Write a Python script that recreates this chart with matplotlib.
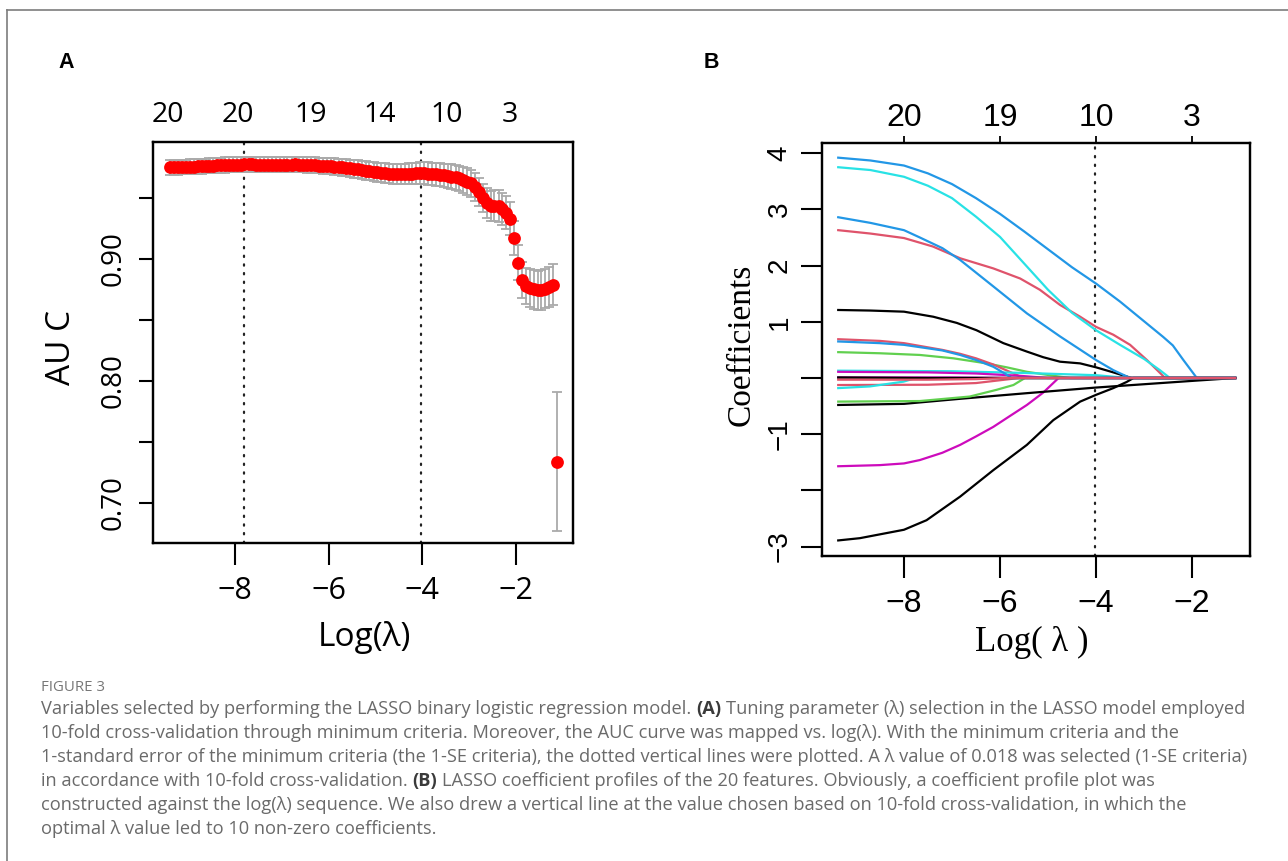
import matplotlib
matplotlib.use("Agg")
import matplotlib.pyplot as plt
from matplotlib.lines import Line2D

# ---------------- data: panel A (cross-validated AUC) ----------------
cv_log_lambda = [
    -9.38, -9.30, -9.21, -9.13, -9.05, -8.96, -8.88, -8.80, -8.71, -8.63,
    -8.55, -8.46, -8.38, -8.30, -8.21, -8.13, -8.05, -7.96, -7.88, -7.80,
    -7.71, -7.63, -7.55, -7.46, -7.38, -7.30, -7.21, -7.13, -7.05, -6.96,
    -6.88, -6.79, -6.71, -6.63, -6.54, -6.46, -6.38, -6.29, -6.21, -6.13,
    -6.04, -5.96, -5.88, -5.79, -5.71, -5.63, -5.54, -5.46, -5.38, -5.29,
    -5.21, -5.13, -5.04, -4.96, -4.88, -4.79, -4.71, -4.63, -4.54, -4.46,
    -4.38, -4.29, -4.21, -4.13, -4.04, -3.96, -3.88, -3.79, -3.71, -3.63,
    -3.54, -3.46, -3.38, -3.29, -3.21, -3.13, -3.04, -2.96, -2.87, -2.79,
    -2.71, -2.62, -2.54, -2.46, -2.37, -2.29, -2.21, -2.12, -2.04, -1.96,
    -1.87, -1.79, -1.71, -1.62, -1.54, -1.46, -1.37, -1.29, -1.21, -1.12]
cv_auc = [
    0.9750, 0.9751, 0.9752, 0.9753, 0.9755, 0.9756, 0.9758, 0.9759, 0.9761, 0.9762,
    0.9764, 0.9765, 0.9767, 0.9768, 0.9770, 0.9771, 0.9772, 0.9773, 0.9774, 0.9776,
    0.9775, 0.9775, 0.9774, 0.9774, 0.9773, 0.9773, 0.9773, 0.9772, 0.9772, 0.9773,
    0.9774, 0.9774, 0.9775, 0.9774, 0.9773, 0.9772, 0.9770, 0.9768, 0.9766, 0.9764,
    0.9762, 0.9760, 0.9757, 0.9754, 0.9751, 0.9748, 0.9744, 0.9740, 0.9735, 0.9730,
    0.9725, 0.9720, 0.9716, 0.9712, 0.9708, 0.9704, 0.9700, 0.9697, 0.9695, 0.9695,
    0.9696, 0.9698, 0.9700, 0.9702, 0.9703, 0.9702, 0.9700, 0.9698, 0.9695, 0.9691,
    0.9687, 0.9682, 0.9676, 0.9669, 0.9660, 0.9648, 0.9635, 0.9620, 0.9590, 0.9550,
    0.9500, 0.9460, 0.9435, 0.9438, 0.9435, 0.9410, 0.9380, 0.9330, 0.9170, 0.8970,
    0.8830, 0.8780, 0.8760, 0.8750, 0.8745, 0.8748, 0.8758, 0.8770, 0.8790, 0.7340]
cv_auc_se = [
    0.0060, 0.0060, 0.0060, 0.0060, 0.0060, 0.0060, 0.0060, 0.0061, 0.0061, 0.0061,
    0.0061, 0.0061, 0.0061, 0.0061, 0.0062, 0.0062, 0.0062, 0.0062, 0.0062, 0.0062,
    0.0062, 0.0062, 0.0062, 0.0062, 0.0062, 0.0062, 0.0063, 0.0063, 0.0063, 0.0063,
    0.0063, 0.0063, 0.0063, 0.0063, 0.0064, 0.0064, 0.0064, 0.0064, 0.0065, 0.0065,
    0.0066, 0.0066, 0.0067, 0.0068, 0.0069, 0.0070, 0.0071, 0.0072, 0.0073, 0.0074,
    0.0075, 0.0076, 0.0077, 0.0078, 0.0079, 0.0080, 0.0081, 0.0082, 0.0083, 0.0084,
    0.0085, 0.0086, 0.0087, 0.0088, 0.0089, 0.0090, 0.0091, 0.0092, 0.0093, 0.0094,
    0.0095, 0.0097, 0.0099, 0.0101, 0.0103, 0.0105, 0.0107, 0.0109, 0.0112, 0.0115,
    0.0118, 0.0121, 0.0124, 0.0127, 0.0129, 0.0131, 0.0133, 0.0135, 0.0138, 0.0142,
    0.0146, 0.0150, 0.0154, 0.0157, 0.0160, 0.0162, 0.0163, 0.0164, 0.0165, 0.0570]
log_lambda_min = -7.81
log_lambda_1se = -4.02
nzero_pos_A = [-9.43, -7.94, -6.38, -4.91, -3.47, -2.13]
nzero_lab_A = ["20", "20", "19", "14", "10", "3"]
xticks_A = [-8, -6, -4, -2]
yticks_A = [0.70, 0.75, 0.80, 0.85, 0.90, 0.95]
ylabels_A = ["0.70", "", "0.80", "", "0.90", ""]

# ---------------- data: panel B (coefficient paths) ----------------
xticks_B = [-8, -6, -4, -2]
nzero_lab_B = ["20", "19", "10", "3"]
yticks_B = [-3, -2, -1, 0, 1, 2, 3, 4]
ylabels_B = ["\u22123", "", "\u22121", "", "1", "2", "3", "4"]

c01_x = [-9.37, -8.7, -8.0, -7.39, -6.9, -6.49, -5.93, -5.44, -5.1, -4.75, -4.33, -4.0, -3.64, -3.26, -1.1]
c01_y = [1.21, 1.20, 1.18, 1.09, 0.98, 0.85, 0.62, 0.47, 0.37, 0.29, 0.26, 0.19, 0.10, 0.0, 0.0]
c02_x = [-9.37, -8.7, -8.0, -7.4, -6.83, -6.14, -5.58, -5.17, -4.75, -4.33, -4.0, -3.64, -3.29, -2.94, -2.56, -1.1]
c02_y = [2.63, 2.57, 2.49, 2.34, 2.13, 1.95, 1.77, 1.57, 1.30, 1.09, 0.91, 0.77, 0.59, 0.32, 0.0, 0.0]
c03_x = [-9.37, -8.5, -7.67, -6.97, -6.28, -5.86, -5.44, -4.89, -4.54, -1.1]
c03_y = [0.46, 0.44, 0.41, 0.35, 0.26, 0.19, 0.11, 0.04, 0.0, 0.0]
c04_x = [-9.37, -8.7, -8.0, -7.5, -7.0, -6.5, -6.0, -5.5, -5.0, -4.5, -4.0, -3.5, -3.0, -2.6, -2.4, -2.18, -1.90, -1.1]
c04_y = [3.92, 3.87, 3.78, 3.64, 3.45, 3.20, 2.92, 2.61, 2.29, 1.97, 1.68, 1.36, 1.01, 0.73, 0.58, 0.32, 0.0, 0.0]
c05_x = [-9.37, -8.7, -8.0, -7.5, -7.0, -6.5, -6.0, -5.5, -5.0, -4.5, -4.0, -3.5, -3.0, -2.67, -2.46, -1.1]
c05_y = [3.75, 3.70, 3.58, 3.42, 3.20, 2.87, 2.51, 2.04, 1.57, 1.16, 0.85, 0.59, 0.34, 0.14, 0.0, 0.0]
c06_x = [-9.37, -8.5, -8.0, -7.67, -7.2, -6.83, -6.5, -6.14, -5.8, -5.44, -5.1, -4.78, -1.1]
c06_y = [-1.57, -1.55, -1.52, -1.46, -1.33, -1.19, -1.04, -0.87, -0.68, -0.48, -0.26, 0.0, 0.0]
c07_x = [-9.37, -8.0, -6.83, -5.44, -4.0, -1.97, -1.1]
c07_y = [-0.48, -0.46, -0.37, -0.27, -0.17, -0.05, 0.0]
c08_x = [-9.37, -8.5, -8.0, -7.2, -6.83, -6.5, -6.14, -5.72, -5.51, -1.1]
c08_y = [0.69, 0.66, 0.62, 0.50, 0.43, 0.35, 0.24, 0.08, 0.0, 0.0]
c09_x = [-9.37, -7.67, -6.63, -6.07, -5.72, -5.48, -1.1]
c09_y = [-0.42, -0.41, -0.33, -0.21, -0.125, 0.0, 0.0]
c10_x = [-9.37, -8.7, -8.0, -7.67, -7.2, -6.83, -6.14, -5.44, -4.75, -4.0, -3.64, -3.29, -1.1]
c10_y = [2.86, 2.76, 2.63, 2.50, 2.31, 2.10, 1.63, 1.15, 0.74, 0.32, 0.14, 0.0, 0.0]
c11_x = [-9.37, -7.0, -5.5, -4.0, -3.6, -3.3, -1.1]
c11_y = [0.13, 0.12, 0.09, 0.05, 0.02, 0.0, 0.0]
c12_x = [-9.37, -7.5, -6.5, -5.6, -5.0, -1.1]
c12_y = [0.11, 0.10, 0.08, 0.04, 0.0, 0.0]
c13_x = [-9.37, -8.92, -8.0, -7.53, -6.83, -6.14, -5.44, -4.89, -4.33, -4.0, -3.64, -3.36, -3.22, -1.1]
c13_y = [-2.89, -2.85, -2.70, -2.53, -2.11, -1.64, -1.19, -0.75, -0.42, -0.30, -0.18, -0.07, 0.0, 0.0]
c14_x = [-9.37, -7.5, -6.5, -6.0, -5.6, -1.1]
c14_y = [-0.125, -0.12, -0.09, -0.04, 0.0, 0.0]
c15_x = [-9.37, -7.0, -1.1]
c15_y = [-0.01, 0.0, 0.0]
c16_x = [-9.37, -8.5, -8.0, -7.2, -6.83, -6.5, -6.14, -5.9, -5.76, -1.1]
c16_y = [0.65, 0.62, 0.59, 0.49, 0.41, 0.32, 0.20, 0.08, 0.0, 0.0]
c17_x = [-9.37, -8.71, -8.01, -7.75, -1.1]
c17_y = [-0.18, -0.15, -0.065, 0.0, 0.0]
c18_x = [-9.37, -7.0, -5.6, -1.1]
c18_y = [0.01, 0.01, 0.0, 0.0]
c19_x = [-9.37, -7.5, -1.1]
c19_y = [0.01, 0.0, 0.0]
c20_x = [-9.37, -7.5, -6.5, -5.9, -1.1]
c20_y = [-0.03, -0.03, -0.02, 0.0, 0.0]

path_x = [c01_x, c02_x, c03_x, c04_x, c05_x, c06_x, c07_x, c08_x, c09_x, c10_x,
          c11_x, c12_x, c13_x, c14_x, c15_x, c16_x, c17_x, c18_x, c19_x, c20_x]
path_y = [c01_y, c02_y, c03_y, c04_y, c05_y, c06_y, c07_y, c08_y, c09_y, c10_y,
          c11_y, c12_y, c13_y, c14_y, c15_y, c16_y, c17_y, c18_y, c19_y, c20_y]
r_palette = ["#000000", "#DF536B", "#61D04F", "#2297E6", "#28E2E5", "#CD0BBC"]

caption_lines = [
    ["Variables selected by performing the LASSO binary logistic regression model.", "(A)",
     "Tuning parameter (\u03bb) selection in the LASSO model employed"],
    ["10-fold cross-validation through minimum criteria. Moreover, the AUC curve was mapped vs. log(\u03bb). With the minimum criteria and the"],
    ["1-standard error of the minimum criteria (the 1-SE criteria), the dotted vertical lines were plotted. A \u03bb value of 0.018 was selected (1-SE criteria)"],
    ["in accordance with 10-fold cross-validation.", "(B)",
     "LASSO coefficient profiles of the 20 features. Obviously, a coefficient profile plot was"],
    ["constructed against the log(\u03bb) sequence. We also drew a vertical line at the value chosen based on 10-fold cross-validation, in which the"],
    ["optimal \u03bb value led to 10 non-zero coefficients."],
]

# ---------------- figure ----------------
W, H = 1288, 861
fig = plt.figure(figsize=(W / 100, H / 100), dpi=100)
fig.patch.set_facecolor("white")


def fx(px):
    return px / W


def fy(py):
    return 1 - py / H


SANS_A = ["Open Sans", "DejaVu Sans"]
SANS_B = ["Liberation Sans", "DejaVu Sans"]
SERIF_B = ["Liberation Serif", "DejaVu Serif"]
DOT = (0, (0.6, 3.3))

# frame lines of the figure page
fig.add_artist(Line2D([fx(7), 1.0], [fy(10), fy(10)], color="#7d7d7d", lw=1.2))
fig.add_artist(Line2D([fx(7), fx(7)], [fy(10), 0.0], color="#7d7d7d", lw=1.2))

# ---------------- panel A ----------------
axA = fig.add_axes([fx(153), fy(543), fx(573) - fx(153), fy(142) - fy(543)])
axA.errorbar(cv_log_lambda, cv_auc, yerr=cv_auc_se, fmt="none", ecolor="#AAAAAA",
             elinewidth=1.3, capsize=3.6, capthick=1.3, zorder=2)
axA.plot(cv_log_lambda, cv_auc, "o", color="#FF0000", ms=9.2, mec="none", zorder=3)
for v in (log_lambda_min, log_lambda_1se):
    axA.axvline(v, color="#222222", lw=1.6, ls=DOT, dash_capstyle="round", zorder=1)
axA.set_xlim(-9.752, -0.782)
axA.set_ylim(0.6672, 0.9959)
axA.set_xticks(xticks_A)
axA.set_xticklabels(["\u2212%d" % abs(t) for t in xticks_A], fontsize=22, family=SANS_A)
axA.set_yticks(yticks_A)
axA.set_yticklabels(ylabels_A, fontsize=20, family=SANS_A, rotation=90, va="center")
axA.tick_params(axis="x", length=16, width=1.5, pad=8, direction="out")
axA.tick_params(axis="y", length=10, width=1.5, pad=8, direction="out")
for s in axA.spines.values():
    s.set_linewidth(1.6)
axA_top = axA.twiny()
axA_top.set_xlim(axA.get_xlim())
axA_top.set_xticks(nzero_pos_A)
axA_top.set_xticklabels(nzero_lab_A, fontsize=20.5, family=SANS_A)
axA_top.tick_params(axis="x", length=0, pad=9)
for s in axA_top.spines.values():
    s.set_linewidth(1.6)

fig.text(fx(61), fy(347), "AU C", rotation=90, ha="center", va="center",
         fontsize=24, family=SANS_A)
fig.text(fx(364), fy(638), "Log(\u03bb)", ha="center", va="center",
         fontsize=24, family=SANS_A)
fig.text(fx(66), fy(62), "A", ha="center", va="center", fontsize=15.5,
         fontweight="bold", family=SANS_B)

# ---------------- panel B ----------------
axB = fig.add_axes([fx(822), fy(556), fx(1250) - fx(822), fy(143) - fy(556)])
for i, (xs, ys) in enumerate(zip(path_x, path_y)):
    axB.plot(xs, ys, color=r_palette[i % 6], lw=1.6, solid_joinstyle="round", zorder=2)
axB.axvline(log_lambda_1se, color="#222222", lw=1.6, ls=DOT,
            dash_capstyle="round", zorder=1)
axB.set_xlim(-9.708, -0.792)
axB.set_ylim(-3.167, 4.181)
axB.set_xticks(xticks_B)
axB.set_xticklabels(["\u2212%d" % abs(t) for t in xticks_B], fontsize=23, family=SANS_B)
axB.set_yticks(yticks_B)
axB.set_yticklabels(ylabels_B, fontsize=20, family=SANS_B, rotation=90, va="center")
axB.tick_params(axis="x", length=16, width=1.5, pad=8, direction="out")
axB.tick_params(axis="y", length=15, width=1.5, pad=6, direction="out")
for s in axB.spines.values():
    s.set_linewidth(1.6)
axB_top = axB.twiny()
axB_top.set_xlim(axB.get_xlim())
axB_top.set_xticks(xticks_B)
axB_top.set_xticklabels(nzero_lab_B, fontsize=23, family=SANS_B)
axB_top.tick_params(axis="x", length=5, width=1.3, pad=2, direction="out")
for s in axB_top.spines.values():
    s.set_linewidth(1.6)

fig.text(fx(741), fy(345), "Coefficients", rotation=90, ha="center", va="center",
         fontsize=24, family=SERIF_B)
fig.text(fx(1032), fy(642), "Log( \u03bb )", ha="center", va="center",
         fontsize=25, family=SERIF_B)
fig.text(fx(711), fy(62), "B", ha="center", va="center", fontsize=15.5,
         fontweight="bold", family=SANS_B)

# ---------------- caption ----------------
fig.text(fx(41), fy(691), "FIGURE 3", ha="left", va="baseline", fontsize=10.8,
         family=SANS_A, color="#777777")

renderer = fig.canvas.get_renderer()
CAP_COLOR = "#6a6a6a"
BOLD_COLOR = "#3a3a3a"
cap_size = 12.4
probe = fig.text(0, 0, " ".join(caption_lines[0]), fontsize=cap_size, family=SANS_A)
w = probe.get_window_extent(renderer=renderer).width
probe.remove()
cap_size = cap_size * 1207.0 / w

p1 = fig.text(0, 0, "a a", fontsize=cap_size, family=SANS_A)
p2 = fig.text(0, 0, "aa", fontsize=cap_size, family=SANS_A)
space_w = p1.get_window_extent(renderer=renderer).width - p2.get_window_extent(renderer=renderer).width
p1.remove()
p2.remove()

for k, segs in enumerate(caption_lines):
    x = 41.0
    y = 714 + 24 * k
    for j, seg in enumerate(segs):
        bold = seg in ("(A)", "(B)")
        t = fig.text(fx(x), fy(y), seg, ha="left", va="baseline", fontsize=cap_size,
                     family=SANS_A, fontweight="bold" if bold else "normal",
                     color=BOLD_COLOR if bold else CAP_COLOR)
        bb = t.get_window_extent(renderer=renderer)
        x = bb.x1 + space_w

fig.savefig("out.png", dpi=100, facecolor="white")
